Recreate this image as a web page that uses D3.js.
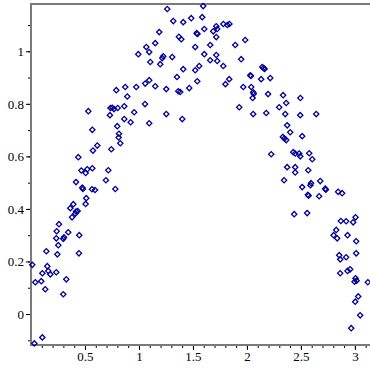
<!DOCTYPE html>
<html>
<head>
<meta charset="utf-8">
<script src="https://cdn.jsdelivr.net/npm/d3@7"></script>
<style>
  body { margin: 0; background: #fff; }
  .tick text { font-family: "Liberation Serif", serif; font-size: 13px; fill: #000; }
</style>
</head>
<body>
<script>
(function(){

//x values of the sample points
var xVals = [
  0.259, 0.238, 0.345, 0.447, 0.234, 0.299, 0.306, 0.253, 0.142, 0.244,
  0.444, 0.012, 0.151, 0.160, 0.105, 0.179, 0.234, 0.040, 0.095, 0.327,
  0.132, 0.299, 0.105, 0.031, 0.364, 0.392, 0.380, 0.417, 0.410, 0.432,
  0.506, 0.512, 0.475, 0.481, 0.565, 0.593, 0.781, 0.417, 0.438, 0.466,
  0.506, 0.521, 0.568, 0.694, 0.716, 0.574, 0.614, 0.568, 0.531, 0.744,
  0.827, 0.815, 0.812, 0.799, 0.864, 0.923, 0.956, 0.731, 0.736, 0.753,
  0.769, 0.803, 0.864, 0.892, 0.790, 0.873, 0.975, 1.056, 1.095, 1.253,
  1.058, 1.095, 1.151, 1.253, 1.352, 1.364, 1.382, 1.410, 1.401, 0.994,
  1.068, 1.095, 1.105, 1.151, 1.188, 1.197, 1.216, 1.225, 1.308, 1.262,
  1.318, 1.410, 1.370, 1.392, 1.595, 1.484, 1.586, 1.534, 1.542, 1.605,
  1.688, 1.716, 1.725, 1.716, 1.782, 1.819, 1.838, 1.521, 1.660, 1.892,
  1.984, 1.605, 1.716, 1.660, 1.725, 1.781, 1.947, 1.521, 1.558, 1.540,
  1.466, 1.836, 1.801, 2.031, 2.037, 2.142, 2.155, 2.164, 2.132, 2.216,
  1.966, 2.040, 2.058, 2.063, 2.053, 2.196, 2.335, 2.495, 1.929, 2.058,
  2.179, 2.299, 2.364, 2.355, 2.494, 2.642, 2.373, 2.401, 2.333, 2.347,
  2.364, 2.512, 2.225, 2.429, 2.447, 2.484, 2.494, 2.577, 2.605, 2.373,
  2.447, 2.447, 2.568, 2.344, 2.594, 2.679, 2.512, 2.588, 2.565, 2.571,
  2.669, 2.725, 2.731, 2.845, 2.882, 2.438, 2.558, 2.870, 2.919, 3.006,
  2.984, 2.827, 2.803, 2.836, 2.932, 3.012, 2.855, 2.864, 2.919, 3.012,
  2.864, 2.932, 2.956, 3.006, 3.016, 2.997, 3.120, 3.031, 3.003, 3.049,
  2.966
];

//y values of the sample points
var yVals = [
  0.342, 0.315, 0.311, 0.300, 0.288, 0.286, 0.292, 0.262, 0.239, 0.227,
  0.231, 0.187, 0.182, 0.164, 0.155, 0.151, 0.159, 0.121, 0.125, 0.132,
  0.094, 0.075, -0.089, -0.112, 0.403, 0.418, 0.368, 0.390, 0.382, 0.392,
  0.419, 0.441, 0.481, 0.476, 0.475, 0.472, 0.476, 0.502, 0.597, 0.546,
  0.537, 0.551, 0.555, 0.509, 0.547, 0.622, 0.641, 0.701, 0.772, 0.627,
  0.650, 0.686, 0.672, 0.715, 0.742, 0.730, 0.768, 0.757, 0.784, 0.785,
  0.780, 0.784, 0.791, 0.828, 0.852, 0.864, 0.864, 0.799, 0.726, 0.761,
  0.877, 0.890, 0.867, 0.856, 0.902, 0.848, 0.845, 0.932, 0.742, 0.989,
  1.016, 0.997, 0.959, 1.031, 1.073, 0.951, 0.974, 0.981, 0.978, 1.161,
  1.115, 1.111, 1.055, 1.046, 1.172, 1.126, 1.130, 1.069, 1.066, 1.085,
  1.076, 1.095, 1.085, 1.054, 1.104, 1.100, 1.104, 1.016, 1.024, 1.024,
  1.043, 0.989, 0.986, 0.966, 0.963, 0.944, 0.970, 0.928, 0.944, 0.886,
  0.860, 0.894, 0.875, 0.909, 0.906, 0.940, 0.936, 0.933, 0.894, 0.898,
  0.864, 0.864, 0.844, 0.838, 0.822, 0.837, 0.833, 0.822, 0.787, 0.761,
  0.765, 0.787, 0.803, 0.761, 0.757, 0.761, 0.718, 0.692, 0.674, 0.668,
  0.662, 0.677, 0.608, 0.616, 0.611, 0.611, 0.600, 0.612, 0.589, 0.559,
  0.559, 0.539, 0.547, 0.509, 0.498, 0.506, 0.483, 0.490, 0.454, 0.450,
  0.448, 0.477, 0.473, 0.465, 0.460, 0.380, 0.384, 0.354, 0.353, 0.368,
  0.349, 0.320, 0.300, 0.288, 0.300, 0.277, 0.224, 0.208, 0.216, 0.231,
  0.155, 0.164, 0.170, 0.136, 0.127, 0.123, 0.121, 0.067, 0.047, -0.005,
  -0.054
];

//tick values
var xTicks = [0.5, 1, 1.5, 2, 2.5, 3];
var yTicks = [0, 0.2, 0.4, 0.6, 0.8, 1];
var xMinor = d3.range(1, 32).map(function(i){ return i / 10; });
var yMinor = d3.range(-1, 12).map(function(i){ return i / 10; });

//frame dimensions
var width = 370,
    height = 370;

var svg = d3.select("body")
  .append("svg")
  .attr("width", width)
  .attr("height", height);

var x = d3.scaleLinear()
  .domain([0, 3.14])
  .range([31, 370]);

var y = d3.scaleLinear()
  .domain([-0.118, 1.18])
  .range([345, 4]);

var axisColor = "#7a7a7a";

//minor ticks
svg.append("g")
  .attr("transform", "translate(0," + y.range()[0] + ")")
  .call(d3.axisBottom(x).tickValues(xMinor).tickSize(3).tickFormat(""))
  .call(function(g){
    g.select(".domain").remove();
    g.selectAll("line").attr("stroke", "#000");
  });

svg.append("g")
  .attr("transform", "translate(" + x(0) + ",0)")
  .call(d3.axisLeft(y).tickValues(yMinor).tickSize(3).tickFormat(""))
  .call(function(g){
    g.select(".domain").remove();
    g.selectAll("line").attr("stroke", "#000");
  });

//major ticks with labels
svg.append("g")
  .attr("transform", "translate(0," + y.range()[0] + ")")
  .call(d3.axisBottom(x).tickValues(xTicks).tickSize(5).tickPadding(2).tickFormat(d3.format("")))
  .call(function(g){
    g.select(".domain").remove();
    g.selectAll("line").attr("stroke", "#000");
  });

svg.append("g")
  .attr("transform", "translate(" + x(0) + ",0)")
  .call(d3.axisLeft(y).tickValues(yTicks).tickSize(5).tickPadding(2).tickFormat(d3.format("")))
  .call(function(g){
    g.select(".domain").remove();
    g.selectAll("line").attr("stroke", "#000");
  });

//frame lines (left, top, bottom)
var frame = d3.path();
frame.moveTo(x.range()[1], y.range()[1]);
frame.lineTo(x(0), y.range()[1]);
frame.lineTo(x(0), y.range()[0]);
frame.lineTo(x.range()[1], y.range()[0]);

svg.append("path")
  .attr("d", frame.toString())
  .attr("fill", "none")
  .attr("stroke", axisColor)
  .attr("stroke-width", 2);

//points as small diamonds
var diamond = d3.symbol().type(d3.symbolSquare).size(14);

svg.selectAll(".pt")
  .data(d3.range(xVals.length))
  .enter()
  .append("path")
  .attr("class", "pt")
  .attr("d", diamond)
  .attr("transform", function(i){
    return "translate(" + x(xVals[i]) + "," + y(yVals[i]) + ") rotate(45)";
  })
  .attr("fill", "none")
  .attr("stroke", "#000096")
  .attr("stroke-width", 1.3);

})();
</script>
</body>
</html>
